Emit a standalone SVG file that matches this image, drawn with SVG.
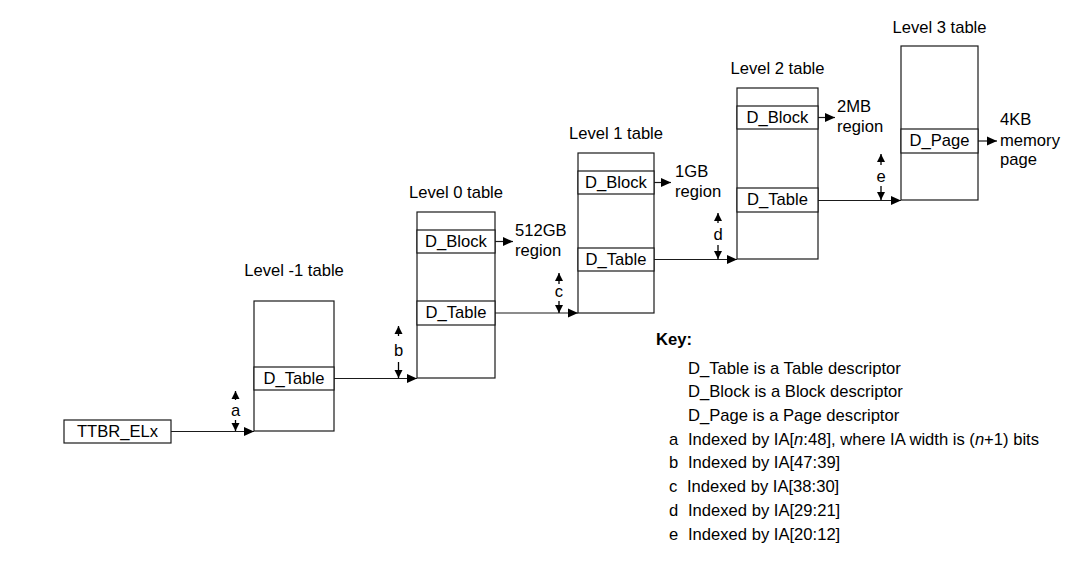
<svg xmlns="http://www.w3.org/2000/svg" width="1071" height="564" viewBox="0 0 1071 564">
<defs>
<style>
text{font-family:"Liberation Sans",Arial,sans-serif;font-size:16.6px;fill:#000}
.mid{text-anchor:middle}
.box{fill:#fff;stroke:#1a1a1a;stroke-width:1.2}
.ln{fill:none;stroke:#1a1a1a;stroke-width:1.2}
.idx{fill:none;stroke:#000;stroke-width:1.3}
</style>
<marker id="ah" markerUnits="userSpaceOnUse" markerWidth="11" markerHeight="10" refX="10" refY="5" orient="auto"><path d="M0,0.5 L10,5 L0,9.5 Z" fill="#000"/></marker>
<marker id="sh" markerUnits="userSpaceOnUse" markerWidth="9" markerHeight="9" refX="8" refY="4.5" orient="auto"><path d="M0,0.5 L8,4.5 L0,8.5 Z" fill="#000"/></marker>
</defs>
<rect width="1071" height="564" fill="#fff"/>

<g id="connectors">
<path class="ln" d="M171,431.5 H254" marker-end="url(#ah)"/>
<path class="ln" d="M334,378.5 H417" marker-end="url(#ah)"/>
<path class="ln" d="M495,241.5 H513" marker-end="url(#ah)"/>
<path class="ln" d="M495,313 H578" marker-end="url(#ah)"/>
<path class="ln" d="M654,182.5 H671" marker-end="url(#ah)"/>
<path class="ln" d="M654,259.5 H737" marker-end="url(#ah)"/>
<path class="ln" d="M818,117.5 H835" marker-end="url(#ah)"/>
<path class="ln" d="M818,200.5 H901" marker-end="url(#ah)"/>
<path class="ln" d="M978,141 H997" marker-end="url(#ah)"/>
<!-- index arrows -->
<path class="idx" d="M235.5,400 V391" marker-end="url(#sh)"/>
<path class="idx" d="M235.5,420 V431" marker-end="url(#sh)"/>
<text class="mid" x="235.5" y="416">a</text>
<path class="idx" d="M398.5,336 V326" marker-end="url(#sh)"/>
<path class="idx" d="M398.5,362 V378" marker-end="url(#sh)"/>
<text class="mid" x="398.5" y="356">b</text>
<path class="idx" d="M559,284 V273" marker-end="url(#sh)"/>
<path class="idx" d="M559,301 V313" marker-end="url(#sh)"/>
<text class="mid" x="559" y="297">c</text>
<path class="idx" d="M718,223 V213" marker-end="url(#sh)"/>
<path class="idx" d="M718,245 V259" marker-end="url(#sh)"/>
<text class="mid" x="718" y="240">d</text>
<path class="idx" d="M881,165 V154" marker-end="url(#sh)"/>
<path class="idx" d="M881,186 V200" marker-end="url(#sh)"/>
<text class="mid" x="881" y="182">e</text>
</g>

<g id="ttbr">
<rect class="box" x="64" y="420" width="107" height="23"/>
<text class="mid" x="117.5" y="437">TTBR_ELx</text>
</g>

<g id="level-1">
<text class="mid" x="294" y="276">Level -1 table</text>
<rect class="box" x="254" y="301" width="80" height="130"/>
<rect class="box" x="254" y="367" width="80" height="23"/>
<text class="mid" x="294" y="384">D_Table</text>
</g>

<g id="level0">
<text class="mid" x="456" y="198">Level 0 table</text>
<rect class="box" x="417" y="212" width="78" height="166"/>
<rect class="box" x="417" y="230" width="78" height="23"/>
<text class="mid" x="456" y="247">D_Block</text>
<rect class="box" x="417" y="301" width="78" height="24"/>
<text class="mid" x="456" y="318">D_Table</text>
<text x="515" y="236">512GB</text>
<text x="515" y="256">region</text>
</g>

<g id="level1">
<text class="mid" x="616" y="139">Level 1 table</text>
<rect class="box" x="578" y="153" width="76" height="160"/>
<rect class="box" x="578" y="171" width="76" height="23"/>
<text class="mid" x="616" y="188">D_Block</text>
<rect class="box" x="578" y="248" width="76" height="23"/>
<text class="mid" x="616" y="265">D_Table</text>
<text x="675" y="177">1GB</text>
<text x="675" y="197">region</text>
</g>

<g id="level2">
<text class="mid" x="777.5" y="74">Level 2 table</text>
<rect class="box" x="737" y="88" width="81" height="171"/>
<rect class="box" x="737" y="106" width="81" height="23"/>
<text class="mid" x="777.5" y="123">D_Block</text>
<rect class="box" x="737" y="188" width="81" height="24"/>
<text class="mid" x="777.5" y="205">D_Table</text>
<text x="837" y="112">2MB</text>
<text x="837" y="132">region</text>
</g>

<g id="level3">
<text class="mid" x="939.5" y="33">Level 3 table</text>
<rect class="box" x="901" y="46" width="77" height="154"/>
<rect class="box" x="901" y="129" width="77" height="24"/>
<text class="mid" x="939.5" y="146">D_Page</text>
<text x="1000" y="125">4KB</text>
<text x="1000" y="146">memory</text>
<text x="1000" y="165">page</text>
</g>

<g id="key">
<text x="656" y="345" font-weight="bold">Key:</text>
<text x="688" y="374">D_Table is a Table descriptor</text>
<text x="688" y="397">D_Block is a Block descriptor</text>
<text x="688" y="421">D_Page is a Page descriptor</text>
<text x="669" y="445">a</text>
<text x="688" y="445">Indexed by IA[<tspan font-style="italic">n</tspan>:48], where IA width is (<tspan font-style="italic">n</tspan>+1) bits</text>
<text x="669" y="468">b</text>
<text x="688" y="468">Indexed by IA[47:39]</text>
<text x="669" y="492">c</text>
<text x="687" y="492">Indexed by IA[38:30]</text>
<text x="669" y="516">d</text>
<text x="688" y="516">Indexed by IA[29:21]</text>
<text x="669" y="540">e</text>
<text x="688" y="540">Indexed by IA[20:12]</text>
</g>
</svg>
